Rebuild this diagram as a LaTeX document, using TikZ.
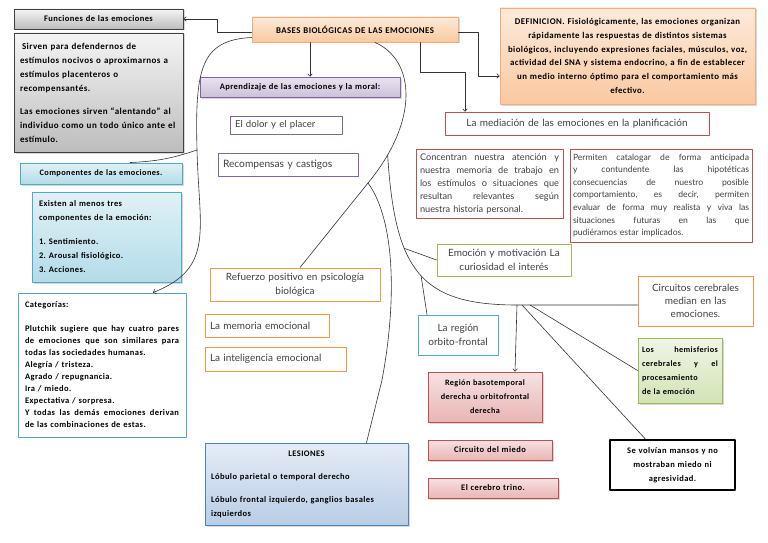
\documentclass[tikz,border=0pt]{standalone}
\usepackage{fontspec}
\setmainfont{Carlito}[LetterSpace=5.0]
\newfontfamily\gothic{Lato}
\usetikzlibrary{arrows.meta,shadows}
\frenchspacing

\definecolor{peachtop}{HTML}{FDEADA}
\definecolor{peachbot}{HTML}{FAC8A0}
\definecolor{peachdraw}{HTML}{F4AC7C}
\definecolor{lavtop}{HTML}{EAE4F0}
\definecolor{lavbot}{HTML}{CCC1DA}
\definecolor{purpledraw}{HTML}{8064A2}
\definecolor{reddraw}{HTML}{C0504D}
\definecolor{greendraw}{HTML}{9BBB59}
\definecolor{orangedraw}{HTML}{F79646}
\definecolor{tealdraw}{HTML}{4BACC6}
\definecolor{bluetop}{HTML}{E1F1F6}
\definecolor{bluebot}{HTML}{B3DCE8}
\definecolor{pinktop}{HTML}{F6E2E1}
\definecolor{pinkbot}{HTML}{E8B5B4}
\definecolor{gtop}{HTML}{F0F5E6}
\definecolor{gbot}{HTML}{D3E3B6}
\definecolor{ltop}{HTML}{E4ECF6}
\definecolor{lbot}{HTML}{B9CDE5}
\definecolor{ldraw}{HTML}{4F81BD}
\definecolor{graytop}{HTML}{F4F4F4}
\definecolor{graybot}{HTML}{BDBDBD}
\definecolor{gothtext}{HTML}{404040}

\newcommand{\calfont}[2]{\fontsize{#1}{#2}\selectfont\bfseries}
\newcommand{\gothfont}[2]{\fontsize{#1}{#2}\selectfont\gothic}
\newcommand{\jline}[1]{{\spaceskip=0pt\xspaceskip=0pt\makebox[\hsize][s]{#1}}}

\tikzset{
  box/.style={draw, line width=0.9pt, inner xsep=5pt, inner ysep=2pt, align=center},
  shade/.style={drop shadow={opacity=0.3, shadow xshift=1.5pt, shadow yshift=-1.5pt}},
  graybox/.style={box, shade, draw=black!75, top color=graytop, bottom color=graybot},
  peachbox/.style={box, shade, draw=peachdraw, top color=peachtop, bottom color=peachbot},
  lavbox/.style={box, shade, draw=purpledraw, top color=lavtop, bottom color=lavbot},
  bluebox/.style={box, shade, draw=tealdraw, top color=bluetop, bottom color=bluebot},
  pinkbox/.style={box, shade, draw=reddraw, top color=pinktop, bottom color=pinkbot},
  greenbox/.style={box, shade, draw=greendraw, top color=gtop, bottom color=gbot},
  lesbox/.style={box, shade, draw=ldraw, top color=ltop, bottom color=lbot},
  linebox/.style={box, fill=white, text=gothtext},
  link/.style={draw=black!80, line width=0.6pt},
  arr/.style={link, -{To[length=3pt,width=5pt]}}
}

\begin{document}
\begin{tikzpicture}[x=1pt,y=-1pt,line cap=round,line join=round]
\fill[white] (0,0) rectangle (768,543);
\useasboundingbox (0,0) rectangle (768,543);

\node[graybox, text width=159pt, minimum height=20pt, font=\calfont{8.5}{10}] (fun) at (98.5,19) {Funciones de las emociones};
\node[graybox, text width=161pt, inner xsep=4pt, minimum height=119pt, align=left, font=\calfont{9}{14}] (funtxt) at (98.5,92.5)
  {\hspace{4pt}Sirven para defendernos de\\ \hspace*{2pt}estímulos nocivos o aproximarnos a\\ \hspace*{2pt}estímulos placenteros o\\ \hspace*{2pt}recompensantés.\\[9pt]
   \hspace*{2pt}Las emociones sirven “alentando” al\\ \hspace*{2pt}individuo como un todo único ante el\\ \hspace*{2pt}estímulo.};

\node[peachbox, text width=196pt, minimum height=25pt, font=\calfont{8.8}{10}] (bases) at (355,29.5) {BASES BIOLÓGICAS DE LAS EMOCIONES};
\node[peachbox, text width=249pt, inner xsep=3pt, minimum height=96pt, font=\calfont{8.8}{13.8}] (defi) at (627.5,56)
  {DEFINICION. Fisiológicamente, las emociones organizan\\ rápidamente las respuestas de distintos sistemas\\
   biológicos, incluyendo expresiones faciales, músculos, voz,\\ actividad del SNA y sistema endocrino, a fin de establecer\\
   un medio interno óptimo para el comportamiento más\\ efectivo.};

\node[lavbox, text width=190pt, minimum height=20pt, font=\calfont{8.5}{10}] (apr) at (300,87) {Aprendizaje de las emociones y la moral:};
\node[linebox, draw=purpledraw, text width=102pt, minimum height=18pt, align=left, font=\gothfont{9.6}{10}] (dolor) at (286,125) {El dolor y el placer};
\node[linebox, draw=purpledraw, text width=130pt, minimum height=23pt, align=left, font=\gothfont{10.2}{11}] (recomp) at (288,164.5) {Recompensas y castigos};

\node[linebox, draw=reddraw, text width=254pt, minimum height=23pt, font=\gothfont{10}{11}] (med) at (577,123.5) {La mediación de las emociones en la planificación};
\node[linebox, draw=reddraw, text width=139pt, inner xsep=4pt, minimum height=69pt, align=left, font=\gothfont{9.2}{13}] (conc) at (489.5,183.5)
  {\jline{Concentran nuestra atención y}\\ \jline{nuestra memoria de trabajo en}\\ \jline{los estímulos o situaciones que}\\
   \jline{resultan relevantes según}\\ nuestra historia personal.};
\node[linebox, draw=reddraw, text width=176pt, inner xsep=3pt, minimum height=93pt, align=left, font=\gothfont{8.6}{12.6}] (perm) at (661,195.5)
  {\jline{Permiten catalogar de forma anticipada}\\ \jline{y contundente las hipotéticas}\\ \jline{consecuencias de nuestro posible}\\
   \jline{comportamiento, es decir, permiten}\\ \jline{evaluar de forma muy realista y viva las}\\ \jline{situaciones futuras en las que}\\
   pudiéramos estar implicados.};

\node[linebox, draw=greendraw, text width=124pt, minimum height=32pt, font=\gothfont{10}{14}] (emo) at (504,260) {Emoción y motivación La\\ curiosidad el interés};
\node[linebox, draw=orangedraw, text width=105pt, minimum height=50pt, font=\gothfont{10}{13}] (circ) at (695.5,301) {Circuitos cerebrales\\ median en las\\ emociones.};

\node[bluebox, text width=152pt, minimum height=21pt, font=\calfont{8.3}{10}] (comp) at (101,173.5) {Componentes de las emociones.};
\node[bluebox, text width=135pt, inner xsep=7pt, minimum height=90pt, align=left, font=\calfont{8.5}{14}] (exis) at (106.5,237)
  {Existen al menos tres\\ componentes de la emoción:\\[10pt] 1. Sentimiento.\\ 2. Arousal fisiológico.\\ 3. Acciones.};
\node[linebox, draw=tealdraw, text=black, text width=154pt, inner xsep=7pt, minimum height=144pt, align=left, font=\calfont{8.5}{12}] (cat) at (102,365)
  {Categorías:\\[12pt] \jline{Plutchik sugiere que hay cuatro pares}\\ \jline{de emociones que son similares para}\\
   todas las sociedades humanas.\\ Alegría / tristeza.\\ Agrado / repugnancia.\\ Ira / miedo.\\ Expectativa / sorpresa.\\
   \jline{Y todas las demás emociones derivan}\\ de las combinaciones de estas.};

\node[linebox, draw=orangedraw, text width=160pt, minimum height=33pt, font=\gothfont{10}{14}] (ref) at (295,284.5) {Refuerzo positivo en psicología\\ biológica};
\node[linebox, draw=orangedraw, text width=114pt, minimum height=23pt, align=left, font=\gothfont{10}{11}] (mem) at (267,325.5) {La memoria emocional};
\node[linebox, draw=orangedraw, text width=131pt, minimum height=24pt, align=left, font=\gothfont{10}{11}] (intel) at (275.5,359) {La inteligencia emocional};
\node[linebox, draw=tealdraw, text width=70pt, minimum height=40pt, font=\gothfont{10}{14}] (reg) at (458,335) {La región\\ orbito-frontal};

\node[greenbox, text width=76pt, inner xsep=4pt, minimum height=65pt, align=left, font=\calfont{8.2}{14}] (hemi) at (680,370.5)
  {\jline{Los hemisferios}\\ \jline{cerebrales y el}\\ procesamiento\\ de la emoción};
\node[pinkbox, text width=106pt, inner xsep=4pt, minimum height=50pt, font=\calfont{8.2}{14}] (baso) at (485,397) {Región basotemporal\\ derecha u orbitofrontal\\ derecha};
\node[pinkbox, text width=114pt, minimum height=20pt, font=\calfont{8.5}{10}] (miedo) at (490,450) {Circuito del miedo};
\node[pinkbox, text width=120pt, minimum height=20pt, font=\calfont{8.5}{10}] (trino) at (493,488) {El cerebro trino.};
\node[box, draw=black, line width=1.6pt, fill=white, text width=115pt, minimum height=50pt, font=\calfont{8.5}{14}] (manso) at (672.5,465) {Se volvían mansos y no\\ mostraban miedo ni\\ agresividad.};
\node[lesbox, text width=191pt, inner xsep=6pt, minimum height=82pt, align=left, font=\calfont{8.5}{14}] (les) at (306.5,484)
  {\makebox[\hsize]{LESIONES}\\[9pt] Lóbulo parietal o temporal derecho\\[9pt] Lóbulo frontal izquierdo, ganglios basales\\ izquierdos};

\draw[arr] ([yshift=-3pt]bases.west) -- ++(-34,0) |- (fun.east);
\draw[arr] ([xshift=-45pt]bases.south) -- ([xshift=10pt]apr.north);
\draw[arr] ([yshift=-3pt]bases.east) -- ++(20,0) |- ([yshift=-20pt]defi.west);
\draw[arr] ([xshift=65pt]bases.south) -- ++(0,30) -| ([xshift=-112pt]med.north);

\draw[arr] ([yshift=-8pt]bases.west) .. controls (200,40) and (195,70) .. (197,150) coordinate (k1)
  .. controls (199,230) and (215,268) .. ([xshift=51pt]cat.north);
\draw[link] ([xshift=29pt]comp.north) to[bend right=8] (k1);

\draw[link] ([xshift=20pt]bases.south) .. controls (415,60) and (420,120) .. (368,183) coordinate (k2) coordinate[pos=0.85] (k3)
  -- ([xshift=5pt]ref.north);
\draw[link] (k2) .. controls (395,220) and (397,300) .. (382,380) -- ([xshift=60pt]les.north);

\draw[link] (k3) .. controls (395,270) and (420,305) .. (517,305) coordinate (hub) coordinate[pos=0.35] (k4) coordinate[pos=0.52] (k5)
  -- (hub -| circ.west);
\draw[link] (k4) -- (emo.west);
\draw[link] (k5) -- ([xshift=-31pt]reg.north);
\draw[arr] (hub) -- ([xshift=30pt]baso.north);
\draw[link] ([xshift=5pt]hub) -- ([xshift=-27pt]manso.north);
\draw[link] ([xshift=13pt]hub) -- (hemi.west);
\end{tikzpicture}
\end{document}
